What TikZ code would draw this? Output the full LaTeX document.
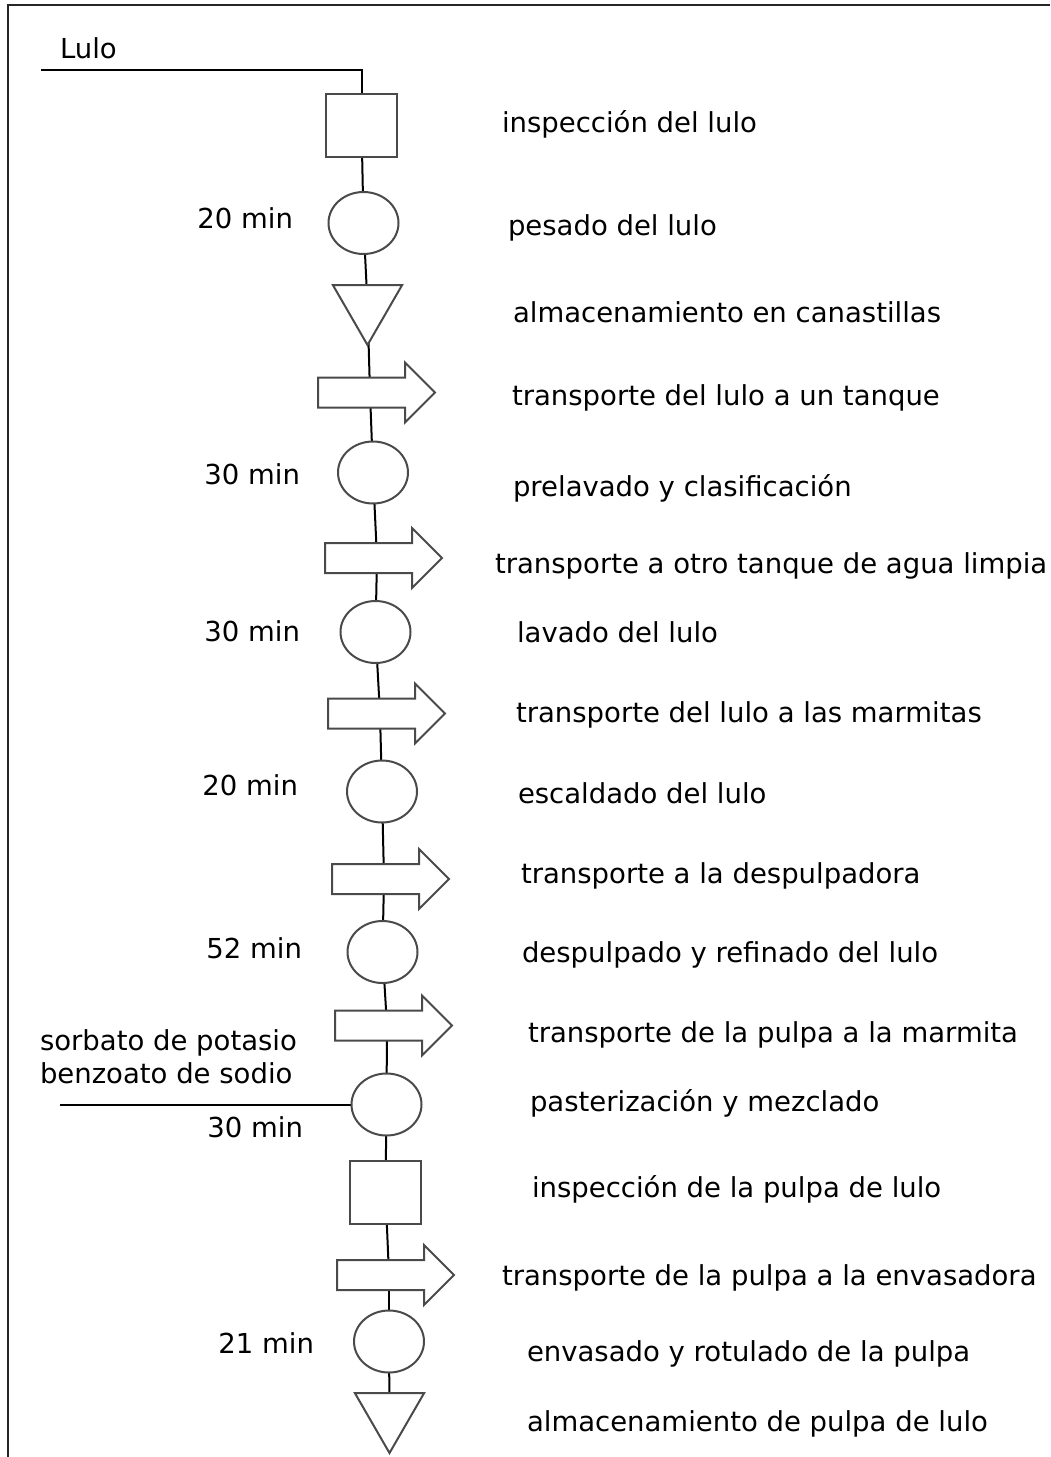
\documentclass[tikz,border=0pt]{standalone}
\usepackage{fontspec}
\setmainfont{DejaVu Sans}
\usepackage{tikz}
\usetikzlibrary{shapes.geometric,backgrounds}
\definecolor{borde}{HTML}{4A4A4A}

\begin{document}
\begin{tikzpicture}[x=1pt,y=-1pt, every node/.style={inner sep=0pt,outer sep=0pt},
  lab/.style={font=\fontsize{27.5}{33}\selectfont,anchor=base west},
  tlab/.style={font=\fontsize{27.5}{33}\selectfont,anchor=base east},
  oper/.style={ellipse,draw=borde,line width=2pt,fill=white,minimum width=70pt,minimum height=62pt},
  insp/.style={rectangle,draw=borde,line width=2pt,fill=white,minimum width=71pt,minimum height=63pt},
  alm/.style={regular polygon,regular polygon sides=3,shape border rotate=180,draw=borde,line width=2pt,fill=white,minimum size=80pt},
  transp/.style={rectangle,minimum width=140pt,minimum height=66pt,
    path picture={\draw[borde,line width=2pt,fill=white,line join=miter]
      ([shift={(-52,-15)}]path picture bounding box.center) -- ++(87,0) -- ++(0,-15) -- ++(30,30)
      -- ++(-30,30) -- ++(0,-15) -- ++(-87,0) -- cycle;}},
  flujo/.style={draw=black,line width=2pt}]
  \useasboundingbox (0,0) rectangle (1050,1457);
  \draw[line width=2.2pt,black!85] (8,1457) -- (8,5) -- (1050,5);
  \node[lab] (lulo) at (60,58) {Lulo}; \coordinate (ent) at (41,70);
  \node[insp] (sq1) at (361.5,125) {}; \node[lab] (l1) at (502,132) {inspección del lulo};
  \node[oper] (c1) at (363.5,223) {}; \node[lab] (l2) at (508,235) {pesado del lulo};
   \node[tlab] (m1) at (293,228) {20 min};
  \node[alm] (tri1) at (367.5,305) {}; \node[lab] (l3) at (513,322) {almacenamiento en canastillas};
  \node[transp] (t1) at (370,392.5) {}; \node[lab] (l4) at (512,405) {transporte del lulo a un tanque};
  \node[oper] (c2) at (373,472.5) {}; \node[lab] (l5) at (513,496) {prelavado y clasificación};
   \node[tlab] (m2) at (300,484) {30 min};
  \node[transp] (t2) at (377,558) {}; \node[lab] (l6) at (495,573) {transporte a otro tanque de agua limpia};
  \node[oper] (c3) at (375.5,632) {}; \node[lab] (l7) at (517,642) {lavado del lulo};
   \node[tlab] (m3) at (300,641) {30 min};
  \node[transp] (t3) at (380,713.5) {}; \node[lab] (l8) at (516,722) {transporte del lulo a las marmitas};
  \node[oper] (c4) at (382,791.5) {}; \node[lab] (l9) at (518,803) {escaldado del lulo};
   \node[tlab] (m4) at (298,795) {20 min};
  \node[transp] (t4) at (384,879) {}; \node[lab] (l10) at (521,883) {transporte a la despulpadora};
  \node[oper] (c5) at (382.5,952) {}; \node[lab] (l11) at (522,962) {despulpado y refinado del lulo};
   \node[tlab] (m5) at (302,958) {52 min};
  \node[transp] (t5) at (387,1025.5) {}; \node[lab] (l12) at (528,1042) {transporte de la pulpa a la marmita};
  \node[oper] (c6) at (386.5,1104.5) {}; \node[lab] (l13) at (530,1111) {pasterización y mezclado};
   \node[lab] (ad1) at (40,1050) {sorbato de potasio}; \node[lab] (ad2) at (40,1083) {benzoato de sodio};
   \node[tlab] (m6) at (303,1137) {30 min}; \coordinate (adit) at (60,1104.5);
  \node[insp] (sq2) at (385.5,1192.5) {}; \node[lab] (l14) at (532,1197) {inspección de la pulpa de lulo};
  \node[transp] (t6) at (389,1275) {}; \node[lab] (l15) at (502,1285) {transporte de la pulpa a la envasadora};
  \node[oper] (c7) at (389,1341.5) {}; \node[lab] (l16) at (527,1361) {envasado y rotulado de la pulpa};
   \node[tlab] (m7) at (314,1353) {21 min};
  \node[alm] (tri2) at (389.5,1413) {}; \node[lab] (l17) at (527,1431) {almacenamiento de pulpa de lulo};
  \begin{scope}[on background layer]
   \draw[flujo] (ent) -| (sq1); \draw[flujo] (sq1) -- (c1); \draw[flujo] (c1) -- (tri1);
   \draw[flujo] (tri1) -- (t1.center); \draw[flujo] (t1.center) -- (c2);
   \draw[flujo] (c2) -- (t2.center); \draw[flujo] (t2.center) -- (c3);
   \draw[flujo] (c3) -- (t3.center); \draw[flujo] (t3.center) -- (c4);
   \draw[flujo] (c4) -- (t4.center); \draw[flujo] (t4.center) -- (c5);
   \draw[flujo] (c5) -- (t5.center); \draw[flujo] (t5.center) -- (c6);
   \draw[flujo] (adit) -- (c6); \draw[flujo] (c6) -- (sq2);
   \draw[flujo] (sq2) -- (t6.center); \draw[flujo] (t6.center) -- (c7); \draw[flujo] (c7) -- (tri2);
  \end{scope}
\end{tikzpicture}
\end{document}
